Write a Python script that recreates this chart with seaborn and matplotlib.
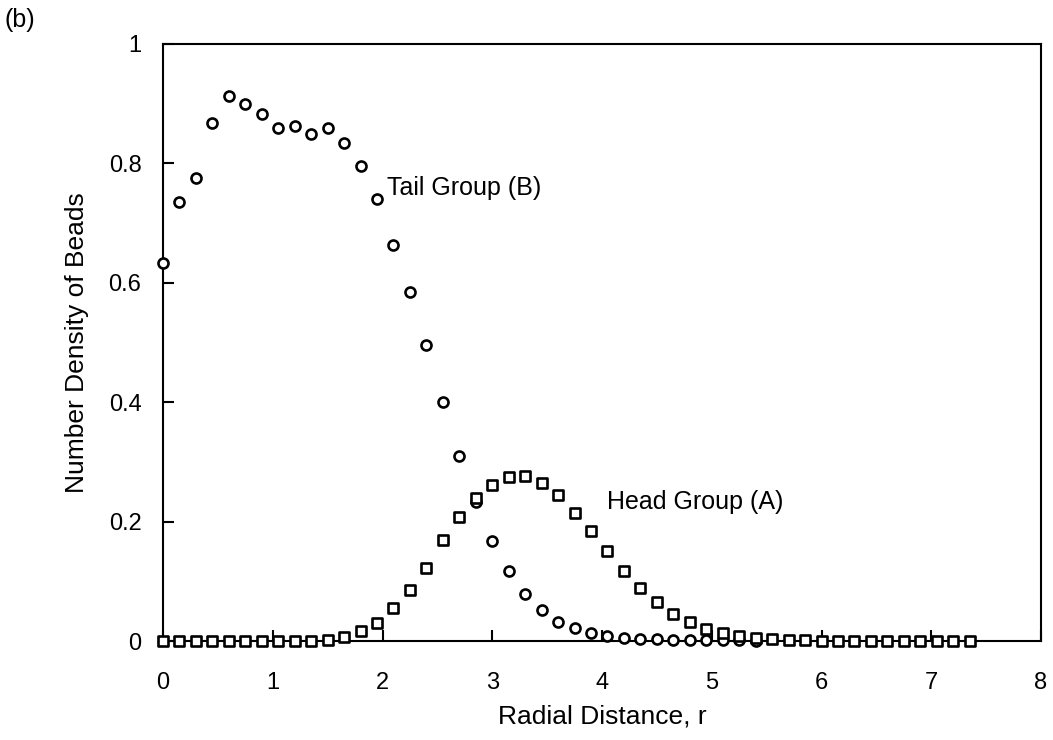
import numpy as np
import pandas as pd
import matplotlib
matplotlib.use("Agg")
import matplotlib.pyplot as plt
import seaborn as sns

# radial positions (step 0.15)
r_head = [0.0, 0.15, 0.3, 0.45, 0.6, 0.75, 0.9, 1.05, 1.2, 1.35, 1.5, 1.65, 1.8, 1.95,
          2.1, 2.25, 2.4, 2.55, 2.7, 2.85, 3.0, 3.15, 3.3, 3.45, 3.6, 3.75, 3.9, 4.05,
          4.2, 4.35, 4.5, 4.65, 4.8, 4.95, 5.1, 5.25, 5.4, 5.55, 5.7, 5.85, 6.0, 6.15,
          6.3, 6.45, 6.6, 6.75, 6.9, 7.05, 7.2, 7.35]
head_A = [0.0, 0.0, 0.0, 0.0, 0.0, 0.0, 0.0, 0.0, 0.0, 0.0, 0.001, 0.007, 0.016, 0.030,
          0.055, 0.085, 0.122, 0.169, 0.208, 0.240, 0.262, 0.274, 0.276, 0.265, 0.244,
          0.214, 0.185, 0.150, 0.118, 0.089, 0.065, 0.045, 0.032, 0.020, 0.013, 0.008,
          0.005, 0.003, 0.002, 0.001, 0.0, 0.0, 0.0, 0.0, 0.0, 0.0, 0.0, 0.0, 0.0, 0.0]

r_tail = [0.0, 0.15, 0.3, 0.45, 0.6, 0.75, 0.9, 1.05, 1.2, 1.35, 1.5, 1.65, 1.8, 1.95,
          2.1, 2.25, 2.4, 2.55, 2.7, 2.85, 3.0, 3.15, 3.3, 3.45, 3.6, 3.75, 3.9, 4.05,
          4.2, 4.35, 4.5, 4.65, 4.8, 4.95, 5.1, 5.25, 5.4]
tail_B = [0.633, 0.736, 0.776, 0.867, 0.913, 0.900, 0.883, 0.860, 0.863, 0.850, 0.860,
          0.835, 0.796, 0.740, 0.663, 0.584, 0.496, 0.401, 0.310, 0.233, 0.167, 0.117,
          0.079, 0.052, 0.032, 0.021, 0.013, 0.008, 0.005, 0.004, 0.003, 0.002, 0.002,
          0.001, 0.001, 0.001, 0.0]

x_ticks = [0, 1, 2, 3, 4, 5, 6, 7, 8]
y_ticks = [0, 0.2, 0.4, 0.6, 0.8, 1.0]
y_ticklabels = ["0", "0.2", "0.4", "0.6", "0.8", "1"]

sns.set_style("white")
plt.rcParams['font.family'] = ['Liberation Sans', 'DejaVu Sans']
plt.rcParams['text.color'] = 'black'
plt.rcParams['axes.labelcolor'] = 'black'

fig = plt.figure(figsize=(10.53, 7.40), dpi=100)
ax = fig.add_axes([163/1053, 1-641/740, (1041-163)/1053, (641-44)/740])

tail_df = pd.DataFrame({"r": r_tail, "density": tail_B})
head_df = pd.DataFrame({"r": r_head, "density": head_A})

sns.scatterplot(data=tail_df, x="r", y="density", ax=ax, marker="o", s=52,
                facecolor="white", edgecolor="black", linewidth=1.9, zorder=3, clip_on=False)
sns.scatterplot(data=head_df, x="r", y="density", ax=ax, marker="s", s=50,
                facecolor="white", edgecolor="black", linewidth=1.9, zorder=4, clip_on=False)

ax.set_xlim(0, 8)
ax.set_ylim(0, 1)
ax.set_xticks(x_ticks)
ax.set_xticklabels([str(t) for t in x_ticks])
ax.set_yticks(y_ticks)
ax.set_yticklabels(y_ticklabels)

for sp in ax.spines.values():
    sp.set_visible(True)
    sp.set_color("black")
    sp.set_linewidth(1.5)

ax.tick_params(axis="both", which="major", direction="in", length=8, width=1.5,
               labelsize=17, colors="black", top=False, right=False,
               bottom=True, left=True)
ax.tick_params(axis="x", pad=22)
ax.tick_params(axis="y", pad=15.5)

ax.set_xlabel("Radial Distance, r", fontsize=19, labelpad=8)
ax.set_ylabel("Number Density of Beads", fontsize=19, labelpad=14)

ax.text(2.04, 0.759, "Tail Group (B)", fontsize=18, ha="left", va="center")
ax.text(4.05, 0.232, "Head Group (A)", fontsize=18, ha="left", va="center")

fig.text(4/1053, 1-20/740, "(b)", fontsize=18, ha="left", va="center")

fig.savefig("out.png", dpi=100, facecolor="white")
